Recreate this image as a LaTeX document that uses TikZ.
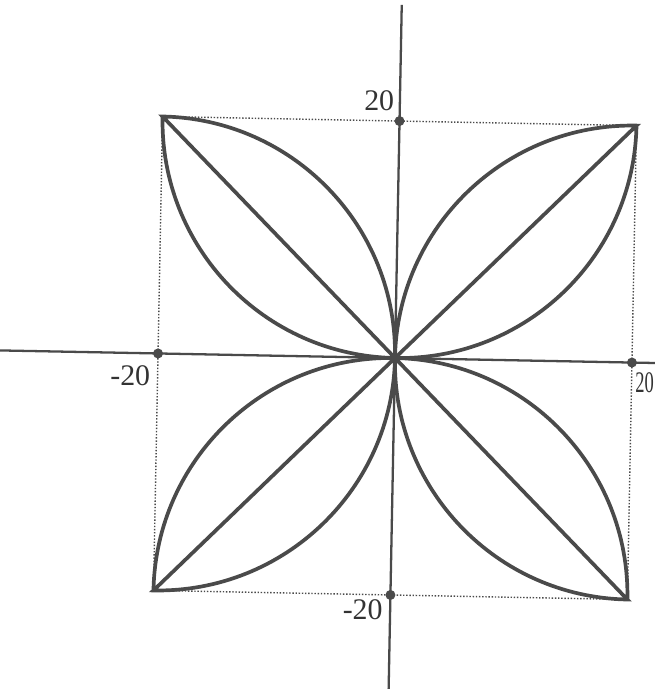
\documentclass[tikz,border=0pt]{standalone}
\usepackage{fontspec}
\setmainfont{Liberation Serif}
\usepackage{graphicx}
\usepackage{xcolor}
\usepackage{tikz}
\usetikzlibrary{positioning}
\definecolor{inkGray}{HTML}{4A4A4A}
\definecolor{textGray}{HTML}{333333}

\begin{document}
\begin{tikzpicture}[x=0.237cm,y=0.237cm,
 axis/.style={line width=1.3pt,draw=inkGray},
 leaf/.style={line width=2.1pt,draw=inkGray},
 frame/.style={densely dotted,line width=0.8pt,draw=inkGray},
 tickdot/.style={circle,fill=inkGray,inner sep=0pt,minimum size=2mm},
 lbl/.style={font=\fontsize{17}{19}\selectfont,text=textGray,inner sep=0pt}]
\useasboundingbox (-33.33,-27.93) rectangle (21.94,30.21);
\begin{scope}[rotate=-1.1]
% points on the axes and corners of the box
\coordinate (o) at (0,0);
\coordinate (xp) at (20,0);
\coordinate (xn) at (-20,0);
\coordinate (yp) at (0,20);
\coordinate (yn) at (0,-20);
\coordinate (ne) at (20,20);
\coordinate (nw) at (-20,20);
\coordinate (sw) at (-20,-20);
\coordinate (se) at (20,-20);
% axes
\draw[axis] (-33.5,0) -- (23,0);
\draw[axis] (0,-29) -- (0,29.8);
% dotted box
\draw[frame] (sw) rectangle (ne);
% the four leaves
\foreach \sx/\sy in {1/1,-1/1,-1/-1,1/-1}{
  \draw[leaf,xscale=\sx,yscale=\sy] (o) arc[start angle=180,end angle=90,radius=20]
    -- (o) arc[start angle=270,end angle=360,radius=20];
}
% dots and labels
\node[tickdot] (dxp) at (xp) {};
\node[tickdot] (dxn) at (xn) {};
\node[tickdot] (dyp) at (yp) {};
\node[tickdot] (dyn) at (yn) {};
\node[lbl,above left=0.2cm and 0.1cm of yp] (lyp) {20};
\node[lbl,below left=0.24cm and 0.15cm of xn] (lxn) {-20};
\node[lbl,below right=0.2cm and 0.06cm of xp] (lxp) {\scalebox{0.62}[1]{20}};
\node[lbl,below left=0.08cm and 0.15cm of yn] (lyn) {-20};
\end{scope}
\end{tikzpicture}
\end{document}
